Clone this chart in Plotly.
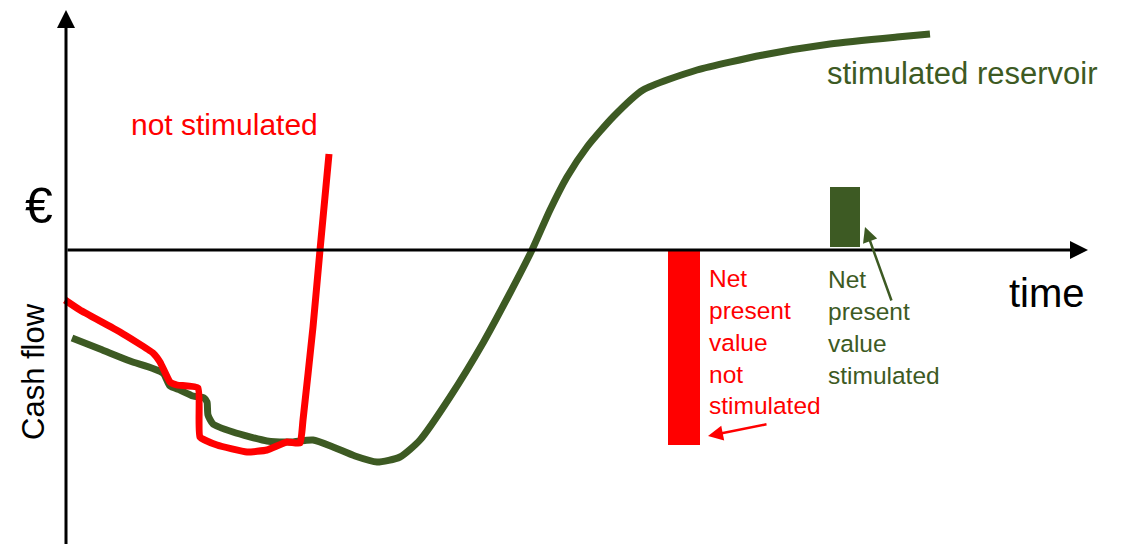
import plotly.graph_objects as go

# time (horizontal) and cash flow (vertical), origin at the axes crossing
stim_t = [6, 34, 64, 97, 104, 114, 127, 138, 141, 142, 147, 167, 201, 224, 247, 267,
          289, 311, 334, 354, 384, 417, 444, 466, 484, 501, 521, 547, 577, 631, 697,
          764, 831, 864]
stim_cash = [-88, -99, -111, -123, -136, -140, -146, -148, -152, -165, -174, -182, -191,
             -192, -190, -197, -206, -212, -207, -190, -147, -93, -43, 0, 40, 73, 103,
             133, 160, 180, 195, 206, 213, 216]

notstim_t = [-1, 14, 54, 87, 94, 104, 111, 132, 134, 151, 181, 201, 221, 234, 237,
             247, 254, 263]
notstim_cash = [-50, -60, -82, -103, -112, -132, -135, -138, -187, -195, -202, -200,
                -192, -193, -170, -77, 0, 96]

npv_t = [618, 779]
npv_cash = [-195, 60]
npv_base = [0, 3]
npv_colors = ["#ff0000", "#3d5a23"]

RED = "#ff0000"
GREEN = "#3d5a23"
FONT = "Arial, Liberation Sans, sans-serif"

fig = go.Figure()

fig.add_trace(go.Bar(x=npv_t, y=npv_cash, base=npv_base, width=[32, 30],
                     marker=dict(color=npv_colors, line=dict(width=0)),
                     showlegend=False))

fig.add_trace(go.Scatter(x=stim_t, y=stim_cash, mode="lines",
                         line=dict(color=GREEN, width=7, shape="spline", smoothing=0.6),
                         showlegend=False))
fig.add_trace(go.Scatter(x=notstim_t, y=notstim_cash, mode="lines",
                         line=dict(color=RED, width=7, shape="spline", smoothing=0.4),
                         showlegend=False))

# axes drawn as arrows
arrows = [
    dict(x=1022, y=0, ax=0, ay=0, color="black", width=3, head=2, size=1.2),
    dict(x=0, y=240, ax=0, ay=-302, color="black", width=3, head=2, size=1.2),
    dict(x=799, y=23, ax=826, ay=-52, color=GREEN, width=2.5, head=2, size=1.2),
    dict(x=642, y=-186, ax=702, ay=-174, color=RED, width=2.5, head=2, size=1.2),
]
for a in arrows:
    fig.add_annotation(x=a["x"], y=a["y"], ax=a["ax"], ay=a["ay"],
                       xref="x", yref="y", axref="x", ayref="y", text="",
                       showarrow=True, arrowhead=a["head"], arrowsize=a["size"],
                       arrowwidth=a["width"], arrowcolor=a["color"])

labels = [
    dict(x=158, y=126, text="not stimulated", color=RED, size=30, xanchor="center"),
    dict(x=896, y=177, text="stimulated reservoir", color=GREEN, size=31, xanchor="center"),
    dict(x=981, y=-43, text="time", color="black", size=40, xanchor="center"),
    dict(x=-27, y=44, text="€", color="black", size=50, xanchor="center"),
    dict(x=641, y=-92, text="Net<br>present<br>value<br>not<br>stimulated", color=RED,
         size=24.5, xanchor="left"),
    dict(x=760, y=-77, text="Net<br>present<br>value<br>stimulated", color=GREEN,
         size=24.5, xanchor="left"),
]
for l in labels:
    fig.add_annotation(x=l["x"], y=l["y"], xref="x", yref="y", text=l["text"],
                       showarrow=False, xanchor=l["xanchor"], yanchor="middle",
                       align="left", font=dict(family=FONT, size=l["size"], color=l["color"]))

fig.add_annotation(x=-33, y=-122, xref="x", yref="y", text="Cash flow", showarrow=False,
                   textangle=-90, font=dict(family=FONT, size=31, color="black"))

# ranges offset by the page's 8px body margin so the axes land where the sketch has them
fig.update_layout(
    width=1124, height=544,
    margin=dict(l=0, r=0, t=0, b=0),
    paper_bgcolor="white", plot_bgcolor="white",
    xaxis=dict(range=[-58, 1066], visible=False, fixedrange=True),
    yaxis=dict(range=[-302, 242], visible=False, fixedrange=True),
    bargap=0,
)

fig.write_html("out.html")
